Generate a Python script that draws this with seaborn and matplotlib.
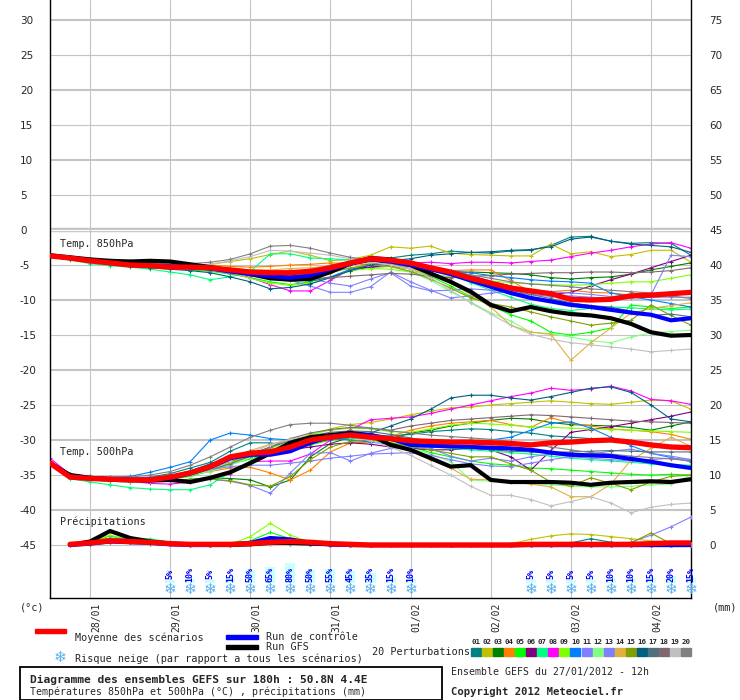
import numpy as np
import pandas as pd
import matplotlib
matplotlib.use("Agg")
import matplotlib.pyplot as plt
from matplotlib.patches import Rectangle
import seaborn as sns

# time steps (hours after 27/01/2012 12h)
HOURS = [0, 6, 12, 18, 24, 30, 36, 42, 48, 54, 60, 66, 72, 78, 84, 90, 96,
         102, 108, 114, 120, 126, 132, 138, 144, 150, 156, 162, 168, 174, 180, 186, 192]
PRECIP_HOURS = HOURS[1:]

DAY_HOURS = [12, 36, 60, 84, 108, 132, 156, 180]
DAY_LABELS = ["28/01", "29/01", "30/01", "31/01", "01/02", "02/02", "03/02", "04/02"]

MEMBER_IDS = [f"{i:02d}" for i in range(1, 21)]
PERT_COLORS = ["#008080", "#C0C000", "#008000", "#FF8000", "#00FF00", "#800080", "#00FF80",
               "#FF00FF", "#80FF00", "#0080FF", "#8080FF", "#80FF80", "#8080FF", "#E0B040",
               "#80A000", "#006080", "#507080", "#806870", "#C0C0C0", "#808080"]

# 850 hPa
MEAN_850 = [-3.7, -4.0, -4.4, -4.7, -5.0, -5.1, -5.3, -5.3, -5.4, -5.7, -6.0, -6.1, -6.1, -5.9, -5.4, -4.7,
            -4.1, -4.3, -4.7, -5.4, -6.0, -6.9, -7.6, -8.3, -8.7, -9.1, -9.9, -10.0, -9.9, -9.4, -9.3, -9.1, -8.9]
CTRL_850 = [-3.7, -4.0, -4.4, -4.7, -5.0, -5.1, -5.2, -5.3, -5.5, -5.9, -6.3, -6.6, -6.8, -6.5, -5.6, -4.8,
            -4.2, -4.5, -5.0, -5.6, -6.3, -7.2, -8.1, -9.0, -9.7, -10.2, -10.7, -11.0, -11.4, -11.8, -12.1, -12.9, -12.6]
GFS_850 = [-3.6, -3.9, -4.2, -4.4, -4.5, -4.4, -4.5, -4.9, -5.3, -5.8, -6.3, -6.9, -7.1, -7.0, -6.0, -4.8,
           -4.0, -4.2, -5.0, -6.2, -7.4, -8.8, -10.7, -11.6, -11.0, -11.6, -12.0, -12.2, -12.6, -13.4, -14.6, -15.1, -15.0]
PERT_850 = [
    [-3.6, -4.0, -4.3, -4.6, -4.9, -5.1, -5.3, -5.4, -5.5, -5.8, -6.3, -6.6, -6.5, -6.0, -5.0, -4.5, -4.2, -4.0, -3.6, -3.4, -3.0, -3.2, -3.3, -3.0, -2.9, -2.2, -1.0, -0.9, -1.6, -1.9, -1.8, -1.9, -3.6],
    [-3.5, -3.8, -4.2, -4.5, -4.8, -5.0, -5.1, -5.0, -4.9, -4.5, -4.1, -3.5, -3.0, -3.6, -4.4, -4.2, -3.6, -2.4, -2.6, -2.3, -3.3, -3.5, -3.6, -3.7, -3.7, -2.0, -3.4, -3.1, -3.8, -3.5, -2.9, -2.9, -4.6],
    [-3.6, -4.0, -4.4, -4.8, -5.1, -5.2, -5.4, -5.5, -5.6, -5.9, -6.2, -6.6, -7.0, -7.3, -6.8, -5.8, -5.3, -5.2, -5.5, -5.8, -6.1, -6.0, -6.1, -6.2, -6.4, -6.8, -7.0, -6.8, -6.7, -6.3, -5.7, -5.2, -4.7],
    [-3.7, -4.0, -4.4, -4.7, -4.9, -5.0, -5.1, -5.0, -5.0, -5.2, -5.3, -5.2, -5.0, -4.9, -4.7, -4.8, -5.0, -5.2, -5.5, -5.6, -5.8, -5.7, -5.7, -7.2, -8.9, -8.8, -8.6, -8.9, -9.0, -9.3, -9.6, -9.4, -8.9],
    [-3.7, -4.1, -4.5, -4.9, -5.2, -5.4, -5.5, -5.7, -5.9, -6.3, -6.8, -7.4, -7.8, -7.4, -6.0, -5.0, -4.4, -4.8, -5.6, -6.6, -8.0, -9.5, -10.8, -12.1, -13.0, -14.6, -15.0, -14.6, -14.0, -10.7, -11.0, -11.2, -11.0],
    [-3.6, -3.9, -4.3, -4.7, -5.0, -5.1, -5.3, -5.4, -5.6, -6.0, -6.4, -6.5, -6.2, -5.9, -5.6, -5.5, -5.3, -5.0, -5.2, -5.5, -6.0, -6.5, -7.3, -8.0, -8.6, -9.2, -8.9, -8.0, -7.1, -6.3, -5.4, -4.5, -3.6],
    [-3.8, -4.3, -4.8, -5.1, -5.3, -5.6, -6.0, -6.4, -7.1, -6.7, -5.9, -3.4, -3.4, -4.0, -4.1, -4.3, -4.4, -4.5, -5.0, -5.6, -6.4, -7.5, -8.6, -9.6, -10.6, -11.2, -11.5, -11.2, -11.0, -11.1, -11.3, -11.4, -11.3],
    [-3.6, -4.0, -4.4, -4.7, -5.0, -5.2, -5.4, -5.5, -5.7, -6.2, -6.8, -7.8, -8.7, -8.7, -7.2, -5.6, -5.0, -4.8, -4.7, -4.6, -4.8, -4.6, -4.6, -4.7, -4.5, -4.3, -3.8, -3.3, -2.9, -2.4, -2.0, -1.8, -2.6],
    [-3.6, -4.0, -4.3, -4.6, -4.9, -5.0, -5.2, -5.3, -5.6, -6.1, -6.9, -7.6, -7.9, -7.6, -6.8, -5.8, -5.5, -5.6, -6.0, -6.3, -6.7, -7.0, -7.3, -7.5, -7.7, -7.8, -7.9, -7.8, -7.6, -7.4, -7.4, -6.9, -6.4],
    [-3.5, -3.8, -4.2, -4.5, -4.8, -5.0, -5.2, -5.3, -5.3, -5.5, -5.8, -6.2, -6.8, -7.2, -6.7, -5.6, -4.8, -4.9, -5.2, -5.5, -5.8, -6.1, -6.5, -6.8, -7.1, -7.3, -7.4, -7.6, -9.0, -9.5, -10.0, -10.5, -11.0],
    [-3.5, -3.9, -4.3, -4.5, -4.7, -4.8, -5.0, -5.2, -5.5, -5.9, -6.3, -6.8, -7.2, -8.0, -8.9, -8.9, -8.1, -6.0, -7.4, -8.6, -9.7, -9.4, -9.0, -8.8, -8.6, -8.8, -9.0, -9.2, -9.5, -9.4, -9.3, -3.6, -3.8],
    [-3.7, -4.1, -4.5, -4.8, -5.0, -5.2, -5.3, -5.4, -5.5, -5.8, -6.1, -6.3, -6.4, -6.2, -5.8, -5.4, -5.0, -5.2, -6.0, -7.2, -8.8, -10.3, -11.8, -13.0, -14.6, -14.8, -15.3, -15.8, -16.1, -15.3, -14.7, -14.5, -14.3],
    [-3.6, -3.9, -4.2, -4.3, -4.4, -4.6, -4.9, -5.3, -5.7, -6.1, -6.4, -6.6, -6.9, -6.9, -7.6, -8.0, -7.0, -6.1, -8.0, -8.7, -8.6, -8.4, -8.6, -8.9, -9.2, -9.5, -9.4, -9.6, -9.8, -9.7, -9.6, -9.6, -9.6],
    [-3.6, -4.0, -4.4, -4.7, -4.9, -5.0, -5.1, -5.2, -5.3, -5.5, -5.7, -5.7, -5.5, -5.4, -5.1, -4.8, -4.7, -4.9, -5.5, -6.4, -7.6, -9.2, -11.0, -13.6, -14.6, -14.9, -18.6, -16.1, -14.0, -11.9, -11.2, -10.8, -10.4],
    [-3.6, -4.0, -4.4, -4.7, -5.0, -5.2, -5.3, -5.3, -5.4, -5.6, -5.8, -6.1, -6.4, -6.5, -6.1, -5.4, -5.0, -5.2, -5.9, -7.0, -8.3, -9.7, -10.5, -11.0, -11.7, -12.4, -13.0, -13.6, -13.3, -12.9, -10.7, -12.2, -13.6],
    [-3.7, -4.1, -4.5, -4.9, -5.2, -5.4, -5.6, -5.8, -6.1, -6.7, -7.4, -8.4, -8.2, -7.7, -6.8, -5.8, -5.0, -4.4, -4.1, -3.6, -3.4, -3.2, -3.1, -2.9, -2.8, -2.4, -1.3, -1.0, -1.6, -2.0, -2.2, -2.4, -3.2],
    [-3.6, -4.0, -4.4, -4.7, -4.9, -5.1, -5.3, -5.5, -5.7, -6.0, -6.3, -6.5, -6.6, -6.3, -5.6, -4.9, -4.5, -4.3, -4.6, -5.3, -6.1, -7.0, -7.8, -8.6, -9.2, -9.8, -10.4, -10.8, -11.0, -11.6, -12.2, -12.0, -12.4],
    [-3.6, -4.0, -4.3, -4.6, -4.9, -5.1, -5.3, -5.4, -5.5, -5.8, -6.1, -6.5, -6.8, -7.0, -6.8, -6.6, -6.4, -6.2, -6.3, -6.6, -6.8, -6.6, -6.5, -6.3, -6.2, -6.1, -6.1, -6.0, -6.0, -6.1, -6.0, -5.8, -5.4],
    [-3.6, -3.9, -4.3, -4.6, -4.8, -5.0, -5.1, -5.0, -4.9, -4.4, -3.8, -2.9, -3.0, -3.3, -3.6, -4.1, -4.6, -5.0, -5.6, -6.8, -8.6, -10.4, -12.0, -13.6, -14.9, -15.6, -16.1, -16.4, -16.7, -17.0, -17.4, -17.2, -17.0],
    [-3.5, -3.9, -4.2, -4.5, -4.7, -4.8, -4.9, -4.8, -4.6, -4.2, -3.4, -2.3, -2.2, -2.6, -3.3, -3.9, -4.3, -4.4, -4.8, -5.2, -5.8, -6.4, -6.9, -7.4, -7.7, -7.9, -8.1, -8.4, -8.6, -8.8, -9.0, -9.4, -9.8],
]

# 500 hPa
MEAN_500 = [-33.3, -35.3, -35.5, -35.6, -35.7, -35.7, -35.3, -34.7, -33.8, -32.4, -31.9, -31.7, -31.0, -30.0, -29.6, -29.3,
            -29.6, -29.8, -30.1, -30.2, -30.3, -30.3, -30.4, -30.5, -30.7, -30.4, -30.3, -30.1, -30.0, -30.3, -30.7, -31.0, -31.1]
CTRL_500 = [-33.3, -35.2, -35.5, -35.6, -35.7, -35.7, -35.4, -34.8, -33.9, -32.6, -32.1, -32.1, -31.6, -30.4, -29.5, -29.2,
            -29.3, -29.8, -30.7, -30.8, -30.9, -31.0, -31.1, -31.2, -31.4, -31.8, -32.1, -32.2, -32.3, -32.7, -33.1, -33.6, -34.0]
GFS_500 = [-33.3, -35.0, -35.4, -35.6, -35.7, -35.8, -35.7, -36.0, -35.4, -34.6, -33.3, -31.9, -30.4, -29.6, -29.3, -29.0,
           -29.3, -30.7, -31.4, -32.6, -33.8, -33.6, -35.7, -36.0, -36.0, -36.0, -36.1, -36.4, -36.1, -36.0, -35.9, -36.0, -35.6]
PERT_500 = [
    [-33.2, -35.1, -35.4, -35.5, -35.5, -35.3, -34.8, -34.0, -33.2, -31.6, -30.4, -30.4, -30.9, -30.4, -30.0, -29.6, -29.5, -29.4, -29.2, -28.8, -28.6, -28.4, -28.5, -28.8, -29.0, -29.4, -29.6, -29.8, -29.9, -30.2, -30.6, -30.8, -31.0],
    [-33.0, -35.0, -35.3, -35.5, -35.6, -35.6, -35.4, -34.9, -34.2, -33.3, -32.2, -31.2, -30.3, -29.3, -28.4, -27.8, -27.5, -27.0, -26.4, -25.9, -25.4, -25.3, -25.0, -24.8, -24.6, -24.4, -24.6, -24.8, -24.9, -24.6, -24.3, -24.4, -25.6],
    [-33.4, -35.3, -35.7, -35.9, -36.0, -35.9, -35.8, -35.6, -35.4, -35.5, -35.7, -36.7, -35.7, -32.4, -30.5, -29.6, -29.2, -29.8, -29.0, -28.6, -28.0, -27.6, -27.2, -26.9, -27.0, -27.5, -27.8, -27.9, -28.0, -28.2, -28.6, -28.0, -27.4],
    [-33.2, -35.1, -35.4, -35.6, -35.7, -35.6, -35.4, -35.0, -34.5, -34.0, -33.9, -34.7, -35.7, -34.3, -31.7, -30.4, -30.3, -29.5, -28.6, -28.0, -27.6, -27.4, -27.2, -27.8, -28.2, -26.8, -27.6, -28.0, -28.4, -28.6, -28.8, -29.2, -29.9],
    [-33.3, -35.2, -35.5, -35.7, -35.8, -35.8, -35.6, -35.2, -34.4, -33.5, -32.7, -32.0, -31.4, -30.7, -30.0, -29.8, -29.6, -30.0, -30.9, -31.8, -32.4, -33.0, -33.4, -33.6, -34.0, -34.1, -34.3, -34.5, -34.7, -34.9, -35.0, -34.9, -35.0],
    [-33.1, -35.0, -35.3, -35.5, -35.5, -35.4, -35.1, -34.6, -33.9, -33.1, -32.4, -31.9, -31.4, -31.0, -30.6, -30.4, -30.6, -31.0, -31.2, -31.4, -31.4, -31.2, -31.4, -32.4, -34.3, -31.5, -28.9, -28.5, -28.1, -27.6, -27.1, -26.6, -26.0],
    [-33.6, -35.5, -36.0, -36.4, -36.8, -37.0, -37.1, -37.1, -36.4, -34.6, -33.0, -31.8, -30.8, -30.0, -29.4, -29.0, -29.2, -30.0, -30.6, -31.0, -31.2, -31.4, -31.6, -31.8, -32.0, -32.3, -32.6, -32.8, -33.0, -33.2, -33.4, -33.5, -33.6],
    [-32.6, -34.9, -35.3, -35.6, -35.9, -36.2, -36.3, -36.0, -35.4, -34.8, -33.1, -33.0, -33.0, -32.0, -30.0, -28.5, -27.1, -26.9, -26.7, -26.2, -25.6, -25.0, -24.4, -23.8, -23.3, -22.6, -22.9, -22.7, -22.3, -23.0, -24.2, -24.4, -24.9],
    [-33.2, -35.1, -35.4, -35.6, -35.7, -35.7, -35.5, -35.0, -34.2, -33.2, -32.2, -31.2, -30.1, -29.2, -28.6, -28.3, -28.4, -28.8, -28.9, -28.4, -27.9, -27.6, -27.7, -27.9, -28.1, -28.2, -28.3, -28.4, -28.5, -28.6, -28.7, -28.8, -28.9],
    [-33.0, -34.9, -35.2, -35.3, -35.2, -34.6, -33.9, -33.1, -30.0, -29.0, -29.3, -29.8, -30.0, -29.9, -29.8, -30.0, -30.3, -30.6, -30.8, -31.0, -30.5, -30.2, -30.0, -29.6, -28.6, -27.6, -27.4, -28.3, -29.6, -30.8, -31.9, -32.5, -33.1],
    [-33.3, -35.2, -35.6, -35.8, -35.9, -35.9, -35.8, -35.7, -35.6, -35.9, -36.5, -37.6, -34.7, -31.9, -31.8, -33.0, -31.9, -31.2, -30.8, -31.2, -32.3, -33.0, -32.6, -33.0, -32.4, -32.0, -32.4, -32.6, -32.8, -33.0, -32.8, -32.6, -32.8],
    [-33.2, -35.1, -35.4, -35.5, -35.6, -35.5, -35.3, -35.0, -34.5, -33.6, -32.5, -31.3, -30.2, -29.6, -29.3, -29.4, -29.6, -30.2, -31.2, -32.0, -33.1, -35.7, -35.9, -36.0, -36.2, -36.4, -36.6, -36.7, -36.7, -36.6, -36.4, -36.3, -35.0],
    [-33.0, -35.0, -35.3, -35.4, -35.4, -35.3, -35.1, -34.7, -34.2, -33.8, -33.6, -33.6, -33.3, -33.0, -32.6, -32.3, -32.0, -31.9, -31.8, -32.2, -32.8, -33.4, -33.7, -33.8, -33.3, -32.8, -32.4, -32.0, -31.6, -31.3, -31.9, -32.3, -32.8],
    [-33.2, -35.1, -35.4, -35.5, -35.6, -35.5, -35.2, -34.6, -33.7, -32.6, -31.5, -30.6, -29.9, -29.4, -29.2, -29.4, -29.8, -30.6, -31.6, -32.8, -34.0, -35.6, -35.7, -36.0, -36.3, -36.7, -38.1, -38.1, -36.3, -32.9, -31.2, -29.6, -30.9],
    [-33.3, -35.2, -35.6, -35.8, -35.9, -35.9, -35.8, -35.7, -35.6, -35.8, -36.4, -36.6, -35.2, -32.8, -31.0, -30.2, -30.0, -30.4, -30.9, -31.4, -31.9, -32.4, -32.4, -33.4, -34.3, -36.0, -36.6, -35.4, -36.2, -37.1, -36.0, -35.2, -35.0],
    [-33.1, -35.0, -35.3, -35.4, -35.5, -35.4, -35.1, -34.4, -33.4, -32.4, -31.6, -31.4, -30.9, -30.4, -29.8, -29.4, -29.0, -28.0, -27.0, -25.6, -24.0, -23.6, -23.6, -24.0, -24.3, -23.8, -23.2, -22.6, -22.4, -23.2, -25.0, -27.0, -27.4],
    [-33.2, -35.1, -35.4, -35.6, -35.7, -35.6, -35.3, -34.8, -34.0, -33.0, -32.0, -31.0, -30.1, -29.4, -28.9, -28.7, -28.8, -29.2, -29.7, -30.2, -30.7, -31.1, -31.4, -31.6, -31.7, -31.8, -31.7, -31.6, -31.5, -31.6, -31.7, -31.7, -31.7],
    [-33.1, -35.0, -35.3, -35.4, -35.5, -35.4, -35.2, -34.8, -34.2, -33.4, -32.3, -31.0, -29.8, -29.0, -28.5, -28.2, -28.3, -28.6, -28.0, -27.6, -27.2, -27.0, -26.8, -26.6, -26.4, -26.5, -26.7, -26.9, -27.1, -27.3, -27.4, -27.5, -27.6],
    [-33.2, -35.1, -35.5, -35.7, -35.8, -35.8, -35.5, -35.0, -34.2, -33.0, -31.8, -30.7, -29.9, -29.4, -29.2, -29.5, -30.1, -31.0, -32.2, -33.6, -35.0, -36.6, -37.9, -37.9, -38.5, -39.4, -38.8, -38.1, -39.0, -40.4, -39.6, -39.2, -39.0],
    [-33.0, -34.9, -35.2, -35.3, -35.3, -35.0, -34.5, -33.6, -32.4, -31.0, -29.6, -28.6, -27.8, -27.6, -27.6, -27.9, -28.3, -28.7, -29.0, -29.3, -29.5, -29.7, -29.9, -30.2, -30.6, -31.0, -31.4, -31.8, -32.0, -32.3, -32.5, -32.7, -33.0],
]

# precipitation (mm), from +6h
MEAN_PR = [0.1, 0.3, 0.6, 0.5, 0.4, 0.2, 0.1, 0.1, 0.1, 0.2, 0.4, 0.5, 0.4, 0.2, 0.1, 0.0,
           0.0, 0.0, 0.0, 0.0, 0.0, 0.0, 0.0, 0.1, 0.1, 0.1, 0.1, 0.1, 0.1, 0.2, 0.3, 0.3]
CTRL_PR = [0.0, 0.2, 0.5, 0.4, 0.3, 0.1, 0.0, 0.0, 0.1, 0.3, 1.0, 0.8, 0.3, 0.1, 0.0, 0.0,
           0.0, 0.0, 0.0, 0.0, 0.0, 0.0, 0.0, 0.0, 0.0, 0.0, 0.0, 0.0, 0.0, 0.0, 0.0, 0.0]
GFS_PR = [0.0, 0.5, 2.0, 1.0, 0.5, 0.2, 0.1, 0.0, 0.0, 0.1, 0.3, 0.3, 0.2, 0.1, 0.0, 0.0,
          0.0, 0.0, 0.0, 0.0, 0.0, 0.0, 0.0, 0.0, 0.0, 0.0, 0.0, 0.0, 0.0, 0.0, 0.0, 0.0]
PERT_PR = [
    [0.1, 0.4, 0.8, 0.7, 0.6, 0.3, 0.1, 0.0, 0.1, 0.3, 0.6, 0.5, 0.3, 0.1, 0.0, 0.0, 0.0, 0.0, 0.0, 0.0, 0.0, 0.0, 0.0, 0.0, 0.0, 0.3, 0.9, 0.4, 0.0, 0.0, 0.0, 0.2],
    [0.1, 0.3, 0.5, 0.4, 0.3, 0.1, 0.0, 0.0, 0.0, 0.1, 0.3, 0.2, 0.1, 0.0, 0.0, 0.0, 0.0, 0.0, 0.0, 0.0, 0.0, 0.0, 0.2, 0.8, 1.3, 1.6, 1.5, 1.2, 0.9, 0.6, 0.3, 0.1],
    [0.0, 0.3, 0.7, 0.5, 0.3, 0.2, 0.1, 0.0, 0.0, 0.1, 0.2, 0.3, 0.2, 0.1, 0.0, 0.0, 0.0, 0.0, 0.0, 0.0, 0.0, 0.0, 0.0, 0.0, 0.0, 0.0, 0.0, 0.0, 0.0, 0.0, 0.0, 0.0],
    [0.1, 0.2, 0.4, 0.5, 0.4, 0.2, 0.1, 0.0, 0.0, 0.2, 0.5, 0.6, 0.4, 0.2, 0.0, 0.0, 0.0, 0.0, 0.0, 0.0, 0.0, 0.0, 0.0, 0.0, 0.0, 0.0, 0.0, 0.0, 0.0, 0.0, 0.0, 0.0],
    [0.0, 0.4, 1.3, 0.7, 0.4, 0.2, 0.0, 0.0, 0.0, 0.6, 1.8, 0.9, 0.4, 0.1, 0.0, 0.0, 0.0, 0.0, 0.0, 0.0, 0.0, 0.0, 0.0, 0.0, 0.0, 0.0, 0.0, 0.0, 0.0, 0.0, 0.0, 0.0],
    [0.1, 0.2, 0.5, 0.4, 0.3, 0.1, 0.0, 0.0, 0.1, 0.2, 0.4, 0.3, 0.1, 0.0, 0.0, 0.0, 0.0, 0.0, 0.0, 0.0, 0.0, 0.0, 0.0, 0.0, 0.0, 0.0, 0.0, 0.0, 0.0, 0.0, 0.0, 0.0],
    [0.0, 0.4, 0.9, 1.0, 0.9, 0.4, 0.1, 0.0, 0.0, 0.3, 0.5, 0.4, 0.2, 0.0, 0.0, 0.0, 0.0, 0.0, 0.0, 0.0, 0.0, 0.0, 0.0, 0.0, 0.0, 0.0, 0.0, 0.0, 0.0, 0.0, 0.0, 0.0],
    [0.1, 0.3, 0.6, 0.4, 0.3, 0.1, 0.0, 0.0, 0.0, 0.1, 0.3, 0.2, 0.1, 0.0, 0.0, 0.0, 0.0, 0.0, 0.0, 0.0, 0.0, 0.0, 0.0, 0.0, 0.0, 0.0, 0.0, 0.0, 0.0, 0.0, 0.0, 0.0],
    [0.0, 0.5, 1.4, 0.8, 0.4, 0.2, 0.0, 0.0, 0.1, 1.2, 3.1, 1.4, 0.4, 0.1, 0.0, 0.0, 0.0, 0.0, 0.0, 0.0, 0.0, 0.0, 0.0, 0.0, 0.0, 0.0, 0.0, 0.0, 0.0, 0.0, 0.0, 0.0],
    [0.1, 0.3, 0.6, 0.5, 0.4, 0.2, 0.0, 0.0, 0.1, 0.2, 0.5, 0.4, 0.2, 0.0, 0.0, 0.0, 0.0, 0.0, 0.0, 0.0, 0.0, 0.0, 0.0, 0.0, 0.0, 0.0, 0.0, 0.0, 0.0, 0.0, 0.0, 0.0],
    [0.0, 0.2, 0.5, 0.4, 0.3, 0.1, 0.0, 0.0, 0.0, 0.1, 0.3, 0.2, 0.1, 0.0, 0.0, 0.0, 0.0, 0.0, 0.0, 0.0, 0.0, 0.0, 0.0, 0.0, 0.0, 0.0, 0.0, 0.0, 0.4, 1.4, 2.6, 4.0],
    [0.1, 0.3, 0.7, 0.6, 0.4, 0.2, 0.1, 0.0, 0.0, 0.2, 0.4, 0.3, 0.2, 0.1, 0.0, 0.0, 0.0, 0.0, 0.0, 0.0, 0.0, 0.0, 0.0, 0.0, 0.0, 0.0, 0.0, 0.0, 0.0, 0.0, 0.0, 0.0],
    [0.0, 0.3, 0.6, 0.5, 0.3, 0.1, 0.0, 0.0, 0.0, 0.1, 0.2, 0.2, 0.1, 0.0, 0.0, 0.0, 0.0, 0.0, 0.0, 0.0, 0.0, 0.0, 0.0, 0.0, 0.0, 0.0, 0.0, 0.0, 0.0, 0.0, 0.0, 0.0],
    [0.1, 0.3, 0.5, 0.4, 0.3, 0.1, 0.0, 0.0, 0.1, 0.3, 0.5, 0.4, 0.2, 0.1, 0.0, 0.0, 0.0, 0.0, 0.0, 0.0, 0.0, 0.0, 0.0, 0.0, 0.0, 0.0, 0.0, 0.0, 0.0, 0.0, 0.0, 0.0],
    [0.0, 0.3, 0.8, 0.6, 0.4, 0.2, 0.0, 0.0, 0.0, 0.2, 0.4, 0.3, 0.1, 0.0, 0.0, 0.0, 0.0, 0.0, 0.0, 0.0, 0.0, 0.0, 0.0, 0.0, 0.0, 0.0, 0.0, 0.0, 0.3, 1.7, 0.2, 0.0],
    [0.1, 0.4, 0.9, 0.8, 0.6, 0.3, 0.1, 0.0, 0.1, 0.4, 0.8, 0.6, 0.3, 0.1, 0.0, 0.0, 0.0, 0.0, 0.0, 0.0, 0.0, 0.0, 0.0, 0.0, 0.0, 0.0, 0.0, 0.0, 0.0, 0.0, 0.0, 0.0],
    [0.0, 0.2, 0.5, 0.4, 0.2, 0.1, 0.0, 0.0, 0.0, 0.1, 0.3, 0.2, 0.1, 0.0, 0.0, 0.0, 0.0, 0.0, 0.0, 0.0, 0.0, 0.0, 0.0, 0.0, 0.0, 0.0, 0.0, 0.0, 0.0, 0.0, 0.0, 0.0],
    [0.1, 0.3, 0.6, 0.5, 0.3, 0.2, 0.0, 0.0, 0.0, 0.2, 0.4, 0.3, 0.1, 0.0, 0.0, 0.0, 0.0, 0.0, 0.0, 0.0, 0.0, 0.0, 0.0, 0.0, 0.0, 0.0, 0.0, 0.0, 0.0, 0.0, 0.0, 0.0],
    [0.0, 0.3, 0.7, 0.6, 0.5, 0.2, 0.1, 0.0, 0.0, 0.1, 0.2, 0.2, 0.1, 0.0, 0.0, 0.0, 0.0, 0.0, 0.0, 0.0, 0.0, 0.0, 0.0, 0.0, 0.0, 0.0, 0.0, 0.0, 0.0, 0.0, 0.0, 0.0],
    [0.1, 0.5, 1.0, 0.8, 0.6, 0.3, 0.1, 0.0, 0.0, 0.2, 0.4, 0.3, 0.2, 0.0, 0.0, 0.0, 0.0, 0.0, 0.0, 0.0, 0.0, 0.0, 0.0, 0.0, 0.0, 0.0, 0.0, 0.0, 0.0, 0.0, 0.0, 0.0],
]

# snow risk (% of scenarios)
SNOW_HOURS = [36, 42, 48, 54, 60, 66, 72, 78, 84, 90, 96, 102, 108,
              144, 150, 156, 162, 168, 174, 180, 186, 192]
SNOW_PCT = [5, 10, 5, 15, 50, 65, 80, 50, 55, 45, 35, 15, 10,
            5, 5, 5, 5, 10, 10, 15, 20, 15]

W, H = 740, 700
MONO = "DejaVu Sans Mono"
GRID = "#C4C4C4"
FLAKE = "#5AB0F0"

sns.set_style("white")
plt.rcParams["font.family"] = ["DejaVu Sans"]

fig = plt.figure(figsize=(W / 100, H / 100), dpi=100)
ax = fig.add_axes([50 / W, 102 / H, 641 / W, 598 / H])
ax.set_xlim(0, 192)
ax.set_ylim(-52.57, 32.86)

# grid
for v in range(-45, 31, 5):
    thick = v % 10 == 0
    ax.axhline(v, color=GRID, lw=1.5 if thick else 0.8, zorder=0)
ax.axhline(0, color=GRID, lw=3.2, zorder=0)
ax.axhline(0, color="white", lw=0.8, zorder=0)
for d in DAY_HOURS:
    ax.axvline(d, color=GRID, lw=0.8, zorder=0)


def long_form(members, hours):
    rows = []
    for mid, vals in zip(MEMBER_IDS, members):
        for h, v in zip(hours, vals):
            rows.append({"hour": h, "value": v, "member": mid})
    return pd.DataFrame(rows)


def spaghetti(axis, df):
    n0 = len(axis.lines)
    sns.lineplot(data=df, x="hour", y="value", hue="member", hue_order=MEMBER_IDS,
                 palette=PERT_COLORS, estimator=None, sort=False, legend=False,
                 lw=0.8, marker="+", markersize=3.5, ax=axis, zorder=2)
    for ln in axis.lines[n0:]:
        ln.set_markeredgecolor(ln.get_color())
        ln.set_markeredgewidth(0.8)


spaghetti(ax, long_form(PERT_850, HOURS))
spaghetti(ax, long_form(PERT_500, HOURS))

for series, col, lw, z in [(GFS_850, "black", 3.0, 3), (CTRL_850, "#0000FF", 3.0, 4),
                           (MEAN_850, "#FF0000", 3.8, 5), (GFS_500, "black", 3.0, 3),
                           (CTRL_500, "#0000FF", 3.0, 4), (MEAN_500, "#FF0000", 3.8, 5)]:
    sns.lineplot(x=HOURS, y=series, color=col, lw=lw, ax=ax, zorder=z)

# labels inside plot
ax.text(3, -2.0, "Temp. 850hPa", family=MONO, fontsize=7.3, va="center")
ax.text(3, -31.7, "Temp. 500hPa", family=MONO, fontsize=7.3, va="center")
ax.text(3, -41.7, "Précipitations", family=MONO, fontsize=7.3, va="center")

# snow risk markers
for h, p in zip(SNOW_HOURS, SNOW_PCT):
    bh = (0.22 * p + 2) / 7
    ax.add_patch(Rectangle((h - 1.5, -50.4), 3.0, bh, color="#C8FFFF", lw=0, zorder=1, clip_on=False))
    ax.text(h, -49.2, f"{p}%", rotation=90, ha="center", va="center", family=MONO,
            fontsize=6, color="#0000FF", fontweight="bold", zorder=6, clip_on=False)
    ax.text(h, -51.4, "❄", ha="center", va="center", fontsize=11, fontweight="bold",
            color=FLAKE, zorder=6, clip_on=False)

# axes styling
ax.set_xticks([])
ax.set_yticks(range(-45, 31, 5))
ax.set_yticklabels([str(v) for v in range(-45, 31, 5)])
ax.tick_params(axis="y", length=0, pad=21.6, labelsize=7.5)
for lbl in ax.get_yticklabels():
    lbl.set_horizontalalignment("left")
ax.set_xlabel("")
ax.set_ylabel("")
for side in ["left", "right", "bottom"]:
    ax.spines[side].set_color("black")
    ax.spines[side].set_linewidth(1.0)
ax.spines["top"].set_visible(False)

# precipitation on the right-hand scale
ax2 = ax.twinx()
ax2.set_ylim(-52.57 + 45, 32.86 + 45)
spaghetti(ax2, long_form(PERT_PR, PRECIP_HOURS))
for series, col, lw, z in [(GFS_PR, "black", 3.0, 3), (CTRL_PR, "#0000FF", 3.0, 4), (MEAN_PR, "#FF0000", 3.8, 5)]:
    sns.lineplot(x=PRECIP_HOURS, y=series, color=col, lw=lw, ax=ax2, zorder=z)
ax2.set_xlim(0, 192)
ax2.set_yticks(range(0, 76, 5))
ax2.set_yticklabels([str(v) for v in range(0, 76, 5)])
ax2.tick_params(axis="y", length=0, pad=13, labelsize=7.5)
ax2.set_ylabel("")
for s in ax2.spines.values():
    s.set_visible(False)

# date labels
for d, lab in zip(DAY_HOURS, DAY_LABELS):
    ax.text(d + 1.8, -53.3, lab, rotation=90, ha="center", va="top", family=MONO,
            fontsize=7, clip_on=False)


def ftext(x, y, s, **kw):
    kw.setdefault("family", MONO)
    kw.setdefault("fontsize", 7.3)
    kw.setdefault("va", "center")
    fig.text(x / W, 1 - y / H, s, **kw)


ftext(20, 607, "(°c)")
ftext(713, 607, "(mm)")

fig.patches.append(Rectangle((35 / W, 1 - 633 / H), 31 / W, 4 / H, color="#FF0000", transform=fig.transFigure))
fig.patches.append(Rectangle((226 / W, 1 - 639 / H), 32 / W, 4 / H, color="#0000FF", transform=fig.transFigure))
fig.patches.append(Rectangle((226 / W, 1 - 649 / H), 32 / W, 4 / H, color="black", transform=fig.transFigure))
ftext(75, 638, "Moyenne des scénarios")
ftext(266, 637, "Run de contrôle")
ftext(266, 647, "Run GFS")
ftext(60, 658, "❄", family="DejaVu Sans", fontsize=11, fontweight="bold", color=FLAKE, ha="center")
ftext(75, 659, "Risque neige (par rapport a tous les scénarios)")
ftext(372, 652, "20 Perturbations")
for i, (mid, col) in enumerate(zip(MEMBER_IDS, PERT_COLORS)):
    x0 = 471 + 11.05 * i
    fig.patches.append(Rectangle((x0 / W, 1 - 656 / H), 10 / W, 8 / H, color=col, transform=fig.transFigure))
    ftext(x0 + 5, 642, mid, fontsize=5.3, ha="center", fontweight="bold")

fig.patches.append(Rectangle((20 / W, 0.5 / H), 422 / W, 33 / H, fill=False, ec="black", lw=1.3,
                             transform=fig.transFigure))
ftext(30, 680, "Diagramme des ensembles GEFS sur 180h : 50.8N 4.4E", fontsize=8.1, fontweight="bold")
ftext(30, 692, "Températures 850hPa et 500hPa (°C) , précipitations (mm)", fontsize=7.1)
ftext(451, 672, "Ensemble GEFS du 27/01/2012 - 12h", fontsize=7.1)
ftext(451, 692, "Copyright 2012 Meteociel.fr", fontsize=7.6, fontweight="bold")

fig.savefig("out.png", dpi=100)
